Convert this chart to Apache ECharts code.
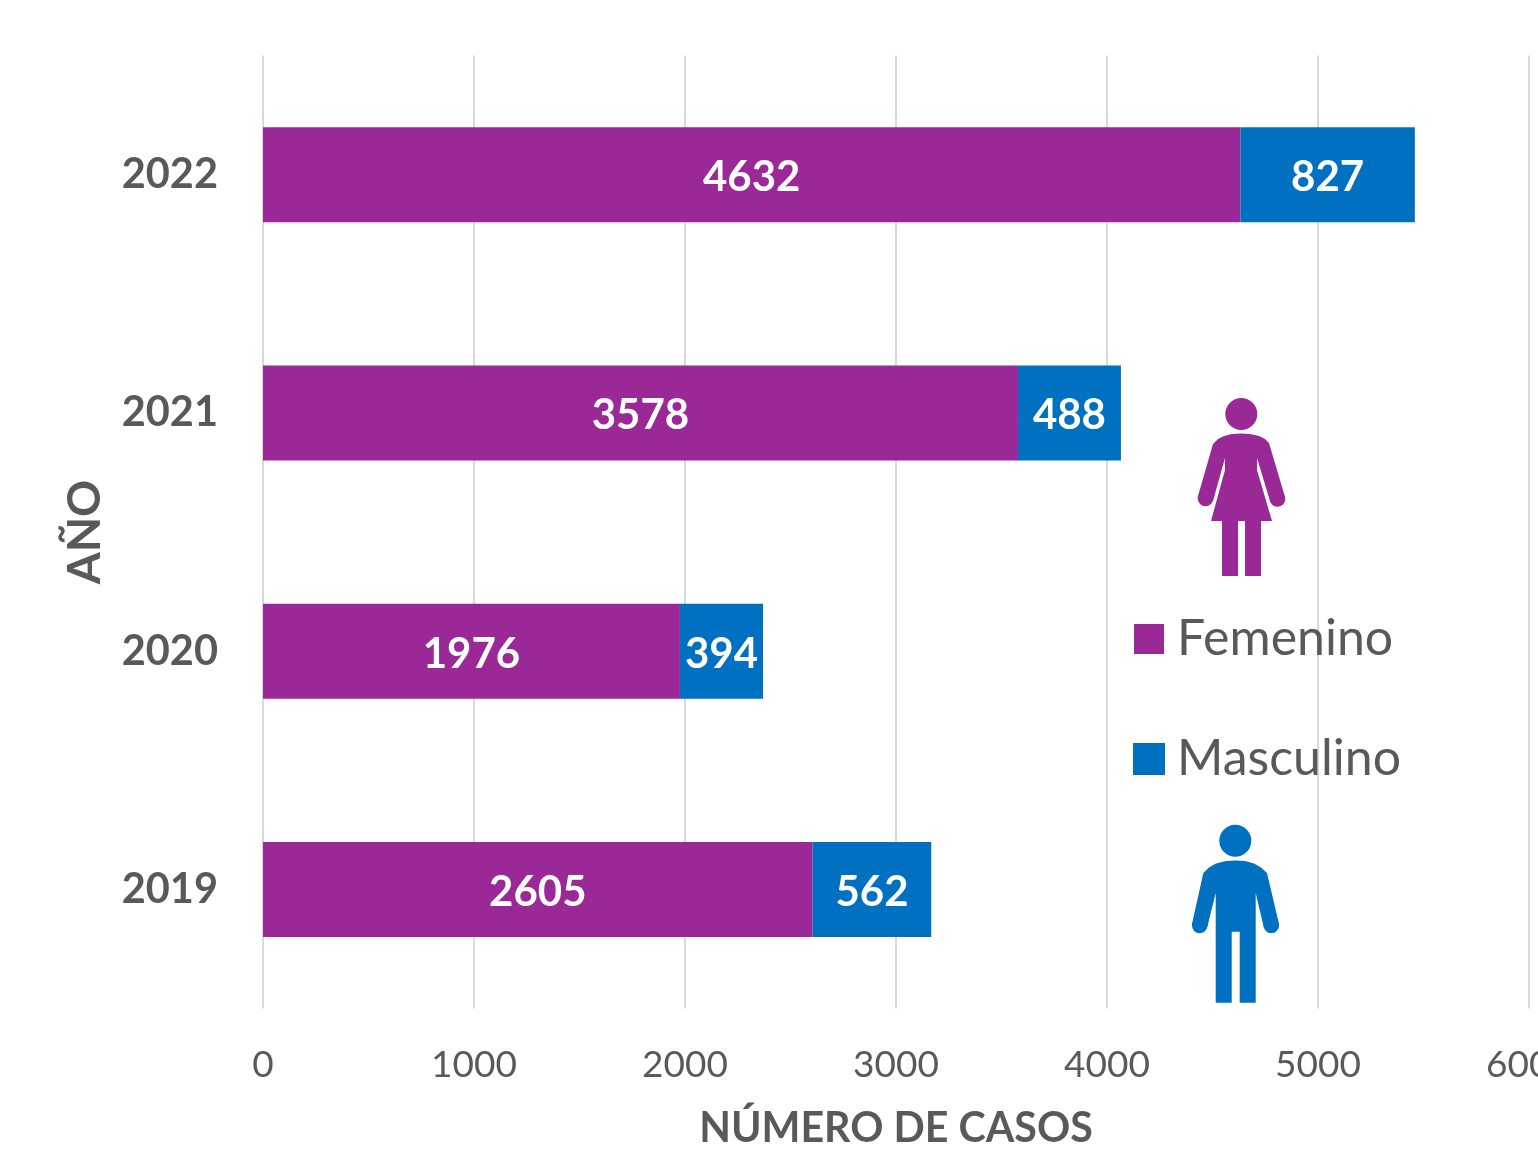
<!DOCTYPE html>
<html><head><meta charset="utf-8">
<style>html,body{margin:0;padding:0;background:#fff}#c{width:1538px;height:1162px}</style>
<script src="https://cdn.jsdelivr.net/npm/echarts@6/dist/echarts.min.js"></script></head>
<body><div id="c"></div>
<script>
const years = ['2019','2020','2021','2022'];
const femenino = [2605,1976,3578,4632];
const masculino = [562,394,488,827];
const FONT = 'Lato';
const PURPLE = '#9A2896', BLUE = '#0070C0', GREY = '#595959';
const womanOutline = [[1241,433.5],[1250,434],[1259,436],[1265,439],[1269,443],[1285,497],[1270,501],[1257,458],[1257,470],[1272,521],[1261,521],[1261,576],[1245,576],[1245,521],[1238,521],[1238,576],[1222,576],[1222,521],[1211,521],[1225,470],[1225,458],[1213,501],[1198,496],[1213,444],[1218,439],[1224,436],[1232,434]];
const manOutline = [[1235.5,860.5],[1245,861],[1254,863.5],[1261,867.5],[1267,873],[1279,924],[1263.7,927],[1255.7,893],[1255.7,1002.7],[1239.7,1002.7],[1239.7,931.7],[1231.7,931.7],[1231.7,1002.7],[1215.7,1002.7],[1215.7,893],[1207.3,927],[1192,924],[1203.3,873],[1209,867.5],[1216,863.5],[1226,861]];
const label = {show:true,position:'inside',color:'#fff',fontFamily:FONT,fontWeight:'bold',fontSize:42,offset:[0,3]};
const dot = (cx,cy,r,fill)=>({type:'circle',shape:{cx,cy,r},style:{fill},z:10});
const chart = echarts.init(document.getElementById('c'),null,{renderer:'canvas'});
chart.setOption({
  animation:false,
  backgroundColor:'#fff',
  textStyle:{fontFamily:FONT},
  grid:{left:263,top:55.5,width:1266,height:953,containLabel:false,outerBoundsMode:'none'},
  legend:{orient:'vertical',left:1128,top:609,itemWidth:30,itemHeight:30,itemGap:70,icon:'rect',
    textStyle:{fontFamily:FONT,fontSize:50,color:GREY,padding:[0,0,0,8]},data:['Femenino','Masculino']},
  xAxis:{type:'value',min:0,max:6000,interval:1000,
    name:'NÚMERO DE CASOS',nameLocation:'center',nameGap:100,
    nameTextStyle:{fontFamily:FONT,fontWeight:'bold',fontSize:41.2,color:GREY},
    axisLine:{show:false},axisTick:{show:false},
    axisLabel:{color:GREY,fontFamily:FONT,fontSize:37,margin:38.5,showMaxLabel:true,hideOverlap:false,formatter:v=>String(v)},
    splitLine:{show:true,lineStyle:{color:'#D9D9D9',width:2}}},
  yAxis:{type:'category',data:years,
    name:'AÑO',nameLocation:'center',nameGap:155,nameRotate:90,
    nameTextStyle:{fontFamily:FONT,fontWeight:'bold',fontSize:46,color:GREY},
    axisLine:{show:false},axisTick:{show:false},
    axisLabel:{color:GREY,fontFamily:FONT,fontWeight:'bold',fontSize:41.5,margin:45},
    splitLine:{show:false}},
  series:[
    {name:'Femenino',type:'bar',stack:'t',barWidth:95,data:femenino,itemStyle:{color:PURPLE},label},
    {name:'Masculino',type:'bar',stack:'t',barWidth:95,data:masculino,itemStyle:{color:BLUE,borderColor:BLUE,borderWidth:2},label}
  ],
  graphic:[
    dot(1241.3,414,16,PURPLE),
    {type:'polygon',shape:{points:womanOutline},style:{fill:PURPLE},z:10},
    dot(1277.5,499,7.8,PURPLE), dot(1205.5,498.5,7.8,PURPLE),
    dot(1235.3,840.7,16,BLUE),
    {type:'polygon',shape:{points:manOutline},style:{fill:BLUE},z:10},
    dot(1271.3,925.5,7.8,BLUE), dot(1199.7,925.5,7.8,BLUE)
  ]
});
</script></body></html>
